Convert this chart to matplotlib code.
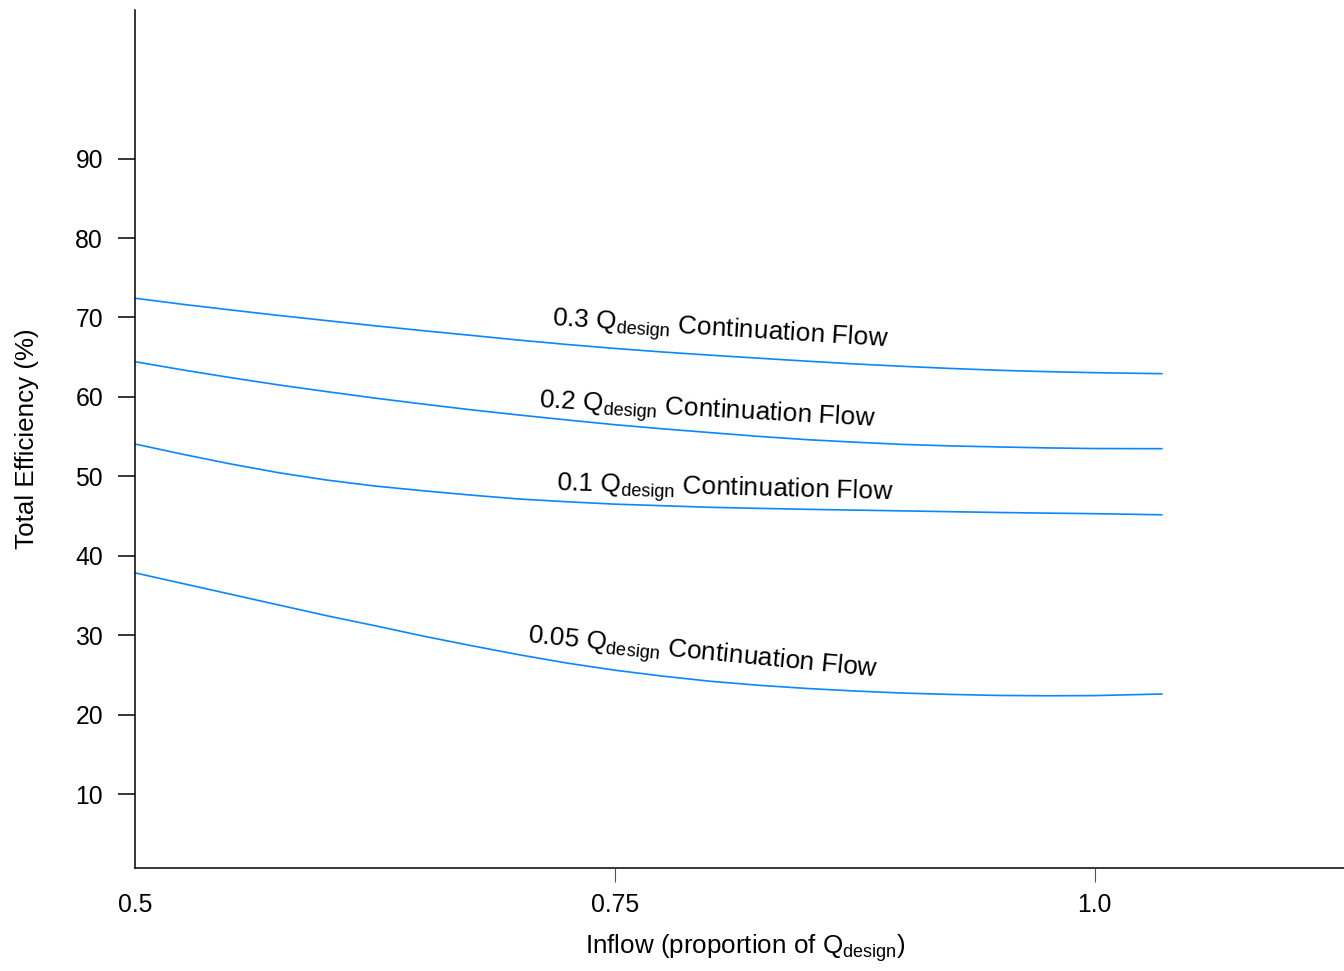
import numpy as np
import matplotlib
matplotlib.use("Agg")
import matplotlib.pyplot as plt

plt.rcParams['font.family'] = ['Liberation Sans', 'DejaVu Sans']
plt.rcParams['mathtext.fontset'] = 'custom'
plt.rcParams['mathtext.rm'] = 'Liberation Sans'
plt.rcParams['mathtext.it'] = 'Liberation Sans:italic'

# inflow as proportion of Q_design
inflow = [0.5, 0.525, 0.55, 0.575, 0.6, 0.625, 0.65, 0.675, 0.7, 0.725, 0.75,
          0.775, 0.8, 0.825, 0.85, 0.875, 0.9, 0.925, 0.95, 0.975, 1.0, 1.035]

# total efficiency (%) for each continuation flow
eff_030 = [72.42, 71.65, 70.94, 70.25, 69.6, 68.95, 68.34, 67.75, 67.15, 66.6, 66.1,
           65.65, 65.25, 64.87, 64.5, 64.15, 63.85, 63.58, 63.35, 63.18, 63.05, 62.92]
eff_020 = [64.43, 63.39, 62.42, 61.5, 60.66, 59.85, 59.1, 58.38, 57.72, 57.1, 56.5,
           55.98, 55.5, 55.03, 54.62, 54.3, 54.02, 53.83, 53.7, 53.58, 53.5, 53.48]
eff_010 = [54.07, 52.77, 51.55, 50.45, 49.53, 48.78, 48.19, 47.64, 47.15, 46.8, 46.5,
           46.3, 46.1, 45.97, 45.85, 45.75, 45.65, 45.55, 45.45, 45.37, 45.3, 45.16]
eff_005 = [37.85, 36.5, 35.15, 33.8, 32.45, 31.2, 29.9, 28.7, 27.55, 26.5, 25.6,
           24.85, 24.2, 23.7, 23.3, 22.98, 22.72, 22.55, 22.42, 22.38, 22.4, 22.6]

series = [eff_030, eff_020, eff_010, eff_005]
labels = ['0.3', '0.2', '0.1', '0.05']
# label anchor (baseline centre) and rotation
label_x = [0.8047, 0.798, 0.8073, 0.7953]
label_y = [67.67, 57.5, 47.64, 26.86]
label_rot = [-3.6, -3.2, -1.55, -5.6]

xticks = [0.5, 0.75, 1.0]
xtick_labels = ['0.5', '0.75', '1.0']
yticks = [10, 20, 30, 40, 50, 60, 70, 80, 90]

line_color = '#0a86ff'

fig = plt.figure(figsize=(13.44, 9.71), dpi=100)
ax = fig.add_axes([135 / 1344, 1 - 868 / 971, 1 - 135 / 1344, 858 / 971])

x = np.array(inflow)
for vals, lab, lx, ly, rot in zip(series, labels, label_x, label_y, label_rot):
    ax.plot(x, vals, color=line_color, linewidth=1.2)
    ax.text(lx, ly, lab + r' Q$_{\mathrm{design}}$ Continuation Flow',
            fontsize=18.8, ha='center', va='baseline', rotation=rot,
            rotation_mode='anchor')

ax.set_xlim(0.5, 1.13)
ax.set_ylim(0.7, 108.7)

ax.spines['top'].set_visible(False)
ax.spines['right'].set_visible(False)
for s in ['left', 'bottom']:
    ax.spines[s].set_linewidth(1.1)
    ax.spines[s].set_color('black')

ax.set_xticks(xticks)
ax.set_xticklabels(xtick_labels)
ax.set_yticks(yticks)
ax.tick_params(axis='x', colors='#555555', labelcolor='black', width=0.8,
               length=10, pad=8, labelsize=17.8)
ax.tick_params(axis='y', color='black', width=1.1, length=12, pad=11,
               labelsize=17.8)
ax.xaxis.get_major_ticks()[0].tick1line.set_visible(False)

ax.set_xlabel(r'Inflow (proportion of Q$_{\mathrm{design}}$)', fontsize=18.7,
              labelpad=11)
ax.xaxis.label.set_x(0.505)
ax.set_ylabel('Total Efficiency (%)', fontsize=18.7, labelpad=26)

fig.savefig('out.png', dpi=100)
